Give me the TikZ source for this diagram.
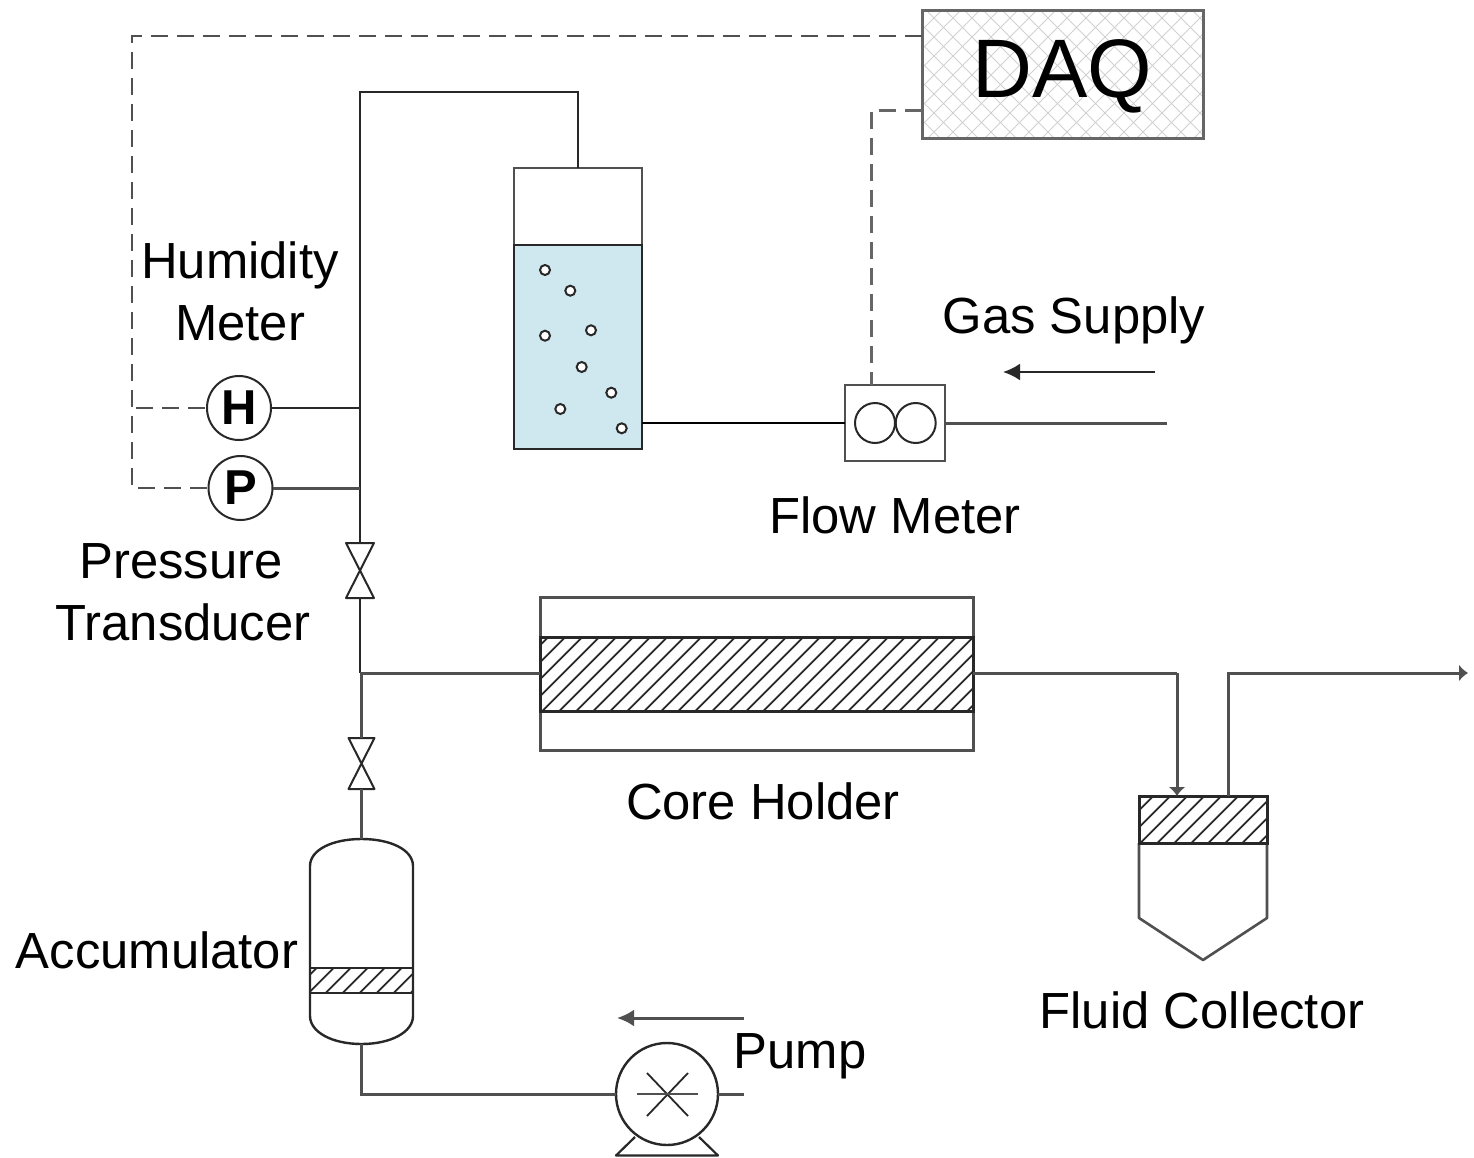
\documentclass[tikz,border=0pt]{standalone}
\usepackage{fontspec}
\setmainfont{Liberation Sans}
\usetikzlibrary{arrows.meta}
\definecolor{ink}{HTML}{282828}
\definecolor{midline}{HTML}{505050}
\definecolor{water}{HTML}{CFE8EF}
\tikzset{
  vessel/.style={draw=ink,line width=2.4pt,rectangle,inner sep=0pt,outer sep=0pt},
  pipe/.style={draw=ink,line width=2.4pt},
  pipeg/.style={draw=midline,line width=3pt},
  signal/.style={draw=midline,line width=2.4pt,dash pattern=on 17pt off 9pt},
  signalg/.style={draw=black!60,line width=3pt,dash pattern=on 17pt off 9pt},
  dial/.style={draw=ink,line width=2pt,circle,fill=white,inner sep=0pt,outer sep=0pt,minimum size=64pt,font=\bfseries\fontsize{49}{55}\selectfont},
  ring/.style={draw=ink,line width=2pt,circle,inner sep=0pt,outer sep=0pt,minimum size=40pt},
  bubble/.style={draw=ink,line width=2pt,circle,fill=white,inner sep=0pt,outer sep=0pt,minimum size=10pt},
  lbl/.style={anchor=base,inner sep=0pt,text=black,font=\fontsize{50.8}{60}\selectfont},
  tip/.style={-{Latex[length=17pt,width=17pt]}},
  stubtip/.style={-{Latex[length=9pt,width=17pt]}},
}
\newcommand{\hatchfill}[5]{%
  \begin{scope}
    \clip (#1,#2) rectangle (#3,#4);
    \foreach \k in {0,...,40}
      \draw[ink,line width=1.8pt] (#1+#5+17*\k,#2) -- (#1+#5+17*\k-#4+#2,#4);
  \end{scope}}
\begin{document}
\begin{tikzpicture}[x=1pt,y=-1pt]
\useasboundingbox[fill=white] (0,0) rectangle (1474,1158);

% DAQ
\begin{scope}
  \clip (922,11) rectangle (1203,139);
  \foreach \c in {922,941,...,1350} {
    \draw[black!18,line width=1pt] (\c,11) -- (\c-128,139);
    \draw[black!18,line width=1pt] (\c-128,11) -- (\c,139);
  }
\end{scope}
\node[vessel,draw=black!60,line width=3pt,minimum width=281pt,minimum height=128pt] (daq) at (1062.5,75) {};
\node[anchor=base,inner sep=0pt,text=black,font=\fontsize{83}{90}\selectfont] (daqt) at (1062,98) {DAQ};

% bubbler
\node[vessel,draw=midline,line width=2.6pt,minimum width=128pt,minimum height=281pt] (bub) at (578,308.5) {};
\node[vessel,fill=water,line width=2.6pt,minimum width=128pt,minimum height=204pt] (wat) at (578,347) {};
\foreach \n/\p in {b1/{545,270},b2/{570.3,290.7},b3/{545,335.7},b4/{591,330.3},b5/{581.7,367},b6/{611.3,392.7},b7/{560.3,409},b8/{621.7,428.3}}
  \node[bubble] (\n) at (\p) {};

% flow meter
\node[vessel,draw=midline,line width=2.6pt,minimum width=100pt,minimum height=76pt] (fm) at (895,423) {};
\node[ring] (fm1) at (875,423) {};
\node[ring] (fm2) at (915.7,423) {};

% dials
\node[dial] (H) at (239,408) {H};
\node[dial] (P) at (240.5,488) {P};

% core holder
\node[vessel,draw=midline,line width=3pt,minimum width=433pt,minimum height=153pt] (holder) at (756.5,673.5) {};
\hatchfill{540}{637}{973}{711}{8.3}
\node[vessel,line width=3pt,minimum width=433pt,minimum height=74pt] (core) at (756.5,674) {};

% valves
\coordinate (v1t) at (360,543);
\coordinate (v1b) at (360,598);
\coordinate (v2t) at (361.5,738);
\coordinate (v2b) at (361.5,789);
\draw[draw=ink,line width=2pt,line join=round] (346,543) -- (374,543) -- (346,598) -- (374,598) -- cycle;
\draw[draw=ink,line width=2pt,line join=round] (348.5,738) -- (374.5,738) -- (348.5,789) -- (374.5,789) -- cycle;

% accumulator
\coordinate (acctop) at (361.5,839);
\coordinate (accbot) at (361.5,1044);
\draw[draw=ink,line width=2.4pt] (acctop) .. controls (332,839) and (310,850) .. (310,866) -- (310,1016)
  .. controls (310,1032) and (332,1044) .. (accbot) .. controls (391,1044) and (413,1032) .. (413,1016)
  -- (413,866) .. controls (413,850) and (391,839) .. (acctop) -- cycle;
\hatchfill{310}{968}{413}{993}{6.7}
\node[vessel,line width=2.6pt,minimum width=103pt,minimum height=25pt] (piston) at (361.5,980.5) {};

% pump
\node[draw=ink,line width=2.4pt,circle,inner sep=0pt,outer sep=0pt,minimum size=102pt] (pump) at (667,1094) {};
\draw[draw=ink,line width=1.8pt] (647,1073) -- (688,1116);
\draw[draw=ink,line width=1.8pt] (688,1073) -- (647,1116);
\draw[draw=midline,line width=2.6pt] (637,1094) -- (698,1094);
\draw[draw=ink,line width=2.2pt,line join=round] (635,1137) -- (616,1155.5) -- (718,1155.5) -- (699,1137);

% fluid collector
\coordinate (fctop) at (1203,796);
\coordinate (fctip) at (1203,960);
\draw[draw=midline,line width=2.6pt,line join=round] (1139,843) -- (1139,918) -- (fctip) -- (1267,918) -- (1267,843);
\hatchfill{1139}{796}{1267}{843}{14.3}
\node[vessel,line width=3pt,minimum width=128pt,minimum height=47pt] (fchat) at (1203,819.5) {};

% pipes: named junctions and free ends
\coordinate (jT) at (360,92);
\coordinate (jH) at (360,408);
\coordinate (jP) at (360,488);
\coordinate (jC) at (360,673);
\coordinate (jD) at (361.5,673);
\coordinate (sT) at (132,36);
\coordinate (sB) at (132,488);
\coordinate (sH) at (136,408);
\coordinate (gasEnd) at (1167,423);
\coordinate (flowR) at (1177,673);
\coordinate (outT) at (1228,673);
\coordinate (outEnd) at (1468,673);
\coordinate (pumpE) at (744,1094);
\coordinate (gasA) at (1155,372);
\coordinate (gasB) at (1003,372);
\coordinate (pumpA) at (744,1018);
\coordinate (pumpB) at (617,1018);
\coordinate (d1) at (922,36);
\coordinate (d2) at (922,111);
\coordinate (d2c) at (871,111);
\coordinate (fmTop) at (871,385);

\draw[pipe] (bub.north) |- (jT) -- (v1t);
\draw[pipe] (H.east) -- (jH);
\draw[pipeg] (P.east) -- (jP);
\draw[pipe] (v1b) -- (jC);
\draw[pipeg] (jC) -- (jC -| core.west);
\draw[pipeg] (jD) -- (v2t);
\draw[pipeg] (v2b) -- (acctop);
\draw[pipeg] (accbot) |- (pump.west);
\draw[pipeg] (pump.east) -- (pumpE);
\draw[pipe,draw=black] (wat.east |- fm.west) -- (fm.west);
\draw[pipeg] (fm.east) -- (gasEnd);
\draw[pipeg] (core.east |- flowR) -- (flowR);
\draw[pipeg,stubtip] (flowR) -- (flowR |- fctop);
\draw[pipeg,stubtip] (outT |- fchat.north) -- (outT) -- (outEnd);
\draw[pipe,tip] (gasA) -- (gasB);
\draw[pipeg,tip] (pumpA) -- (pumpB);

% signal lines
\draw[signal] (d1) -- (sT) -- (sB) -- (P.west);
\draw[signal] (sH) -- (H.west);
\draw[signalg] (d2) -- (d2c) -- (fmTop);

% labels
\node[lbl] (l1) at (240,278) {Humidity};
\node[lbl] (l2) at (240,340) {Meter};
\node[lbl] (l3) at (181,578) {Pressure};
\node[lbl] (l4) at (183,640) {Transducer};
\node[lbl] (l5) at (895,533) {Flow Meter};
\node[lbl] (l6) at (1074,333) {Gas Supply};
\node[lbl] (l7) at (763,819) {Core Holder};
\node[lbl] (l8) at (157,968) {Accumulator};
\node[lbl] (l9) at (1202,1028) {Fluid Collector};
\node[lbl] (l10) at (800,1068) {Pump};
\end{tikzpicture}
\end{document}
